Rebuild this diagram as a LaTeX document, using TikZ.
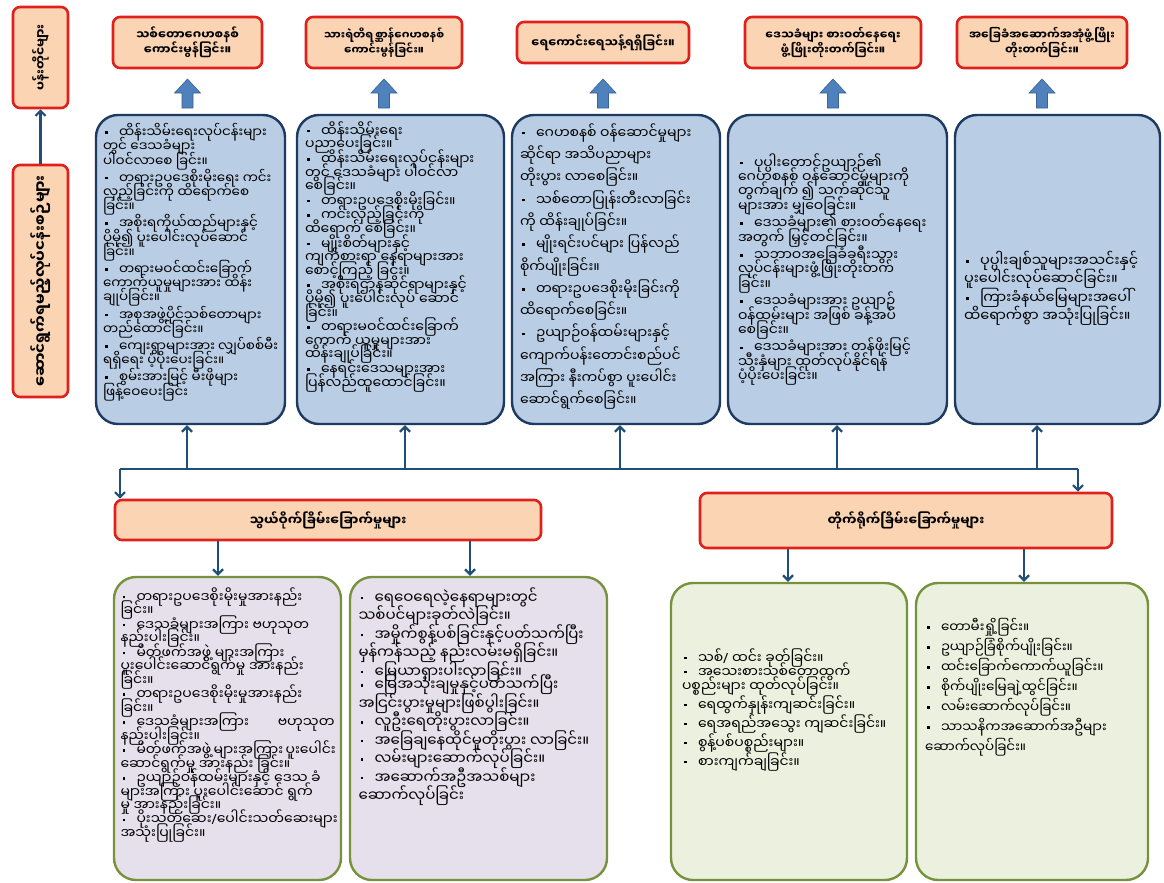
\documentclass[tikz,border=0pt]{standalone}
\usepackage{fontspec}
\newfontfamily\my[Script=Myanmar]{Noto Sans Myanmar UI}
\newfontfamily\lat{Noto Sans}
\usetikzlibrary{calc,arrows.meta}
\definecolor{peach}{HTML}{FBD4B4}
\definecolor{hred}{HTML}{E0201B}
\definecolor{lblue}{HTML}{B9CDE5}
\definecolor{navy}{HTML}{1F3A60}
\definecolor{lav}{HTML}{E5E0EC}
\definecolor{lgreen}{HTML}{EBF1DE}
\definecolor{oliveb}{HTML}{76923C}
\definecolor{darr}{HTML}{1F4E79}
\definecolor{bfill}{HTML}{4F81BD}
\definecolor{bedge}{HTML}{3A6398}
\newlength\bind \setlength\bind{16pt}
\newlength\bgap \setlength\bgap{2pt}
\newcommand\bul{\raisebox{3.8pt}{\rule{2.6pt}{2.6pt}}}
\newcommand\bi{\par\vspace{\bgap}\noindent\hangindent=\bind\hangafter=1\makebox[\bind][l]{\hspace{2pt}\bul}}
\newcommand\bfirst{\par\noindent\hangindent=\bind\hangafter=1\makebox[\bind][l]{\hspace{2pt}\bul}}
\newcommand\slh{{\lat /}}
\newcommand\fs[2]{\fontsize{#1}{#2}\selectfont\lineskiplimit=-100pt\lineskip=0pt\relax\raggedright}
\begin{document}
\lineskiplimit=-100pt
\begin{tikzpicture}[x=1pt,y=-1pt,
 hdr/.style={draw=hred, line width=2.6pt, fill=peach, rounded corners=7pt, align=center, inner sep=2pt, font=\my\bfseries\fontsize{11.5}{15}\selectfont},
 bbox/.style={draw=navy, line width=2.4pt, fill=lblue, rounded corners=22pt, inner sep=0pt, font=\my},
 gbox/.style={draw=oliveb, line width=2.4pt, rounded corners=22pt, inner sep=0pt, font=\my},
 arr/.style={draw=darr, line width=2.2pt, -{Straight Barb[length=5pt,width=10pt]}},
 ln/.style={draw=darr, line width=2.2pt},
 barrow/.style={fill=bfill, draw=bedge, line width=0.6pt}]
\useasboundingbox (0,0) rectangle (1164,883);
\fill[white] (0,0) rectangle (1164,883);

% left column
\node[hdr, rotate=90, minimum width=101, minimum height=55, font=\my\bfseries\fontsize{12.5}{15}\selectfont] (l1) at (40.5,57.5) {ပန်းတိုင်များ};
\node[hdr, rotate=90, minimum width=232, minimum height=55, font=\my\bfseries\fontsize{15}{18}\selectfont] (l2) at (40.5,281) {ဆောင်ရွက်ရမည့်လုပ်ငန်းစဉ်များ};
\draw[arr] (l2.east) -- (l1.west);

% top headers
\node[hdr, minimum width=149, minimum height=51, font=\my\bfseries\fontsize{12}{15}\selectfont] (h1) at (187.5,42.5) {သစ်တောဂေဟစနစ်\\ကောင်းမွန်ခြင်း။};
\node[hdr, minimum width=156, minimum height=51, font=\my\bfseries\fontsize{11}{15}\selectfont] (h2) at (384,42.5) {သားရဲတိရစ္ဆာန်ဂေဟစနစ်\\ကောင်းမွန်ခြင်း။};
\node[hdr, minimum width=172, minimum height=41, font=\my\bfseries\fontsize{12}{15}\selectfont] (h3) at (603,42.5) {ရေကောင်းရေသန့်ရရှိခြင်း။};
\node[hdr, minimum width=176, minimum height=51] (h4) at (833,42.5) {ဒေသခံများ စားဝတ်နေရေး\\ဖွံ့ဖြိုးတိုးတက်ခြင်း။};
\node[hdr, minimum width=170, minimum height=51] (h5) at (1042,42.5) {အခြေခံအဆောက်အအုံဖွံ့ဖြိုး\\တိုးတက်ခြင်း။};

% block arrows
\foreach \i in {1,...,5}{
 \coordinate (ba\i) at (h\i.south |- 0,79);
 \fill[barrow] (ba\i) -- ++(13,14) -- ++(-7.5,0) -- ++(0,15) -- ++(-11,0) -- ++(0,-15) -- ++(-7.5,0) -- cycle;
}

% top boxes
\node[bbox, minimum width=189, minimum height=309] (tb1) at (190.5,269.5) {\parbox[c][292pt][t]{175pt}{\fs{13.5}{14.2}\setlength\bgap{3pt}
\bfirst ထိန်းသိမ်းရေးလုပ်ငန်းများ\\တွင် ဒေသခံများ\\ပါဝင်လာစေ ခြင်း။
\bi တရားဥပဒေစိုးမိုးရေး ကင်း\\လှည့်ခြင်းကို ထိရောက်စေ\\ခြင်း။
\bi အစိုးရကိုယ်ထည်များနှင့်\\ပိုမို၍ ပူးပေါင်းလုပ်ဆောင်\\ခြင်း။
\bi တရားမဝင်ထင်းခြောက်\\ကောက်ယူမှုများအား ထိန်း\\ချုပ်ခြင်း။
\bi အစုအဖွဲ့ပိုင်သစ်တောများ\\တည်ထောင်ခြင်း။
\bi ကျေးရွာများအား လျှပ်စစ်မီး\\ရရှိရေး ပံ့ပိုးပေးခြင်း။
\bi စွမ်းအားမြင့် မီးဖိုများ\\ဖြန့်ဝေပေးခြင်း\par}};

\node[bbox, minimum width=207, minimum height=309] (tb2) at (400.5,269.5) {\parbox[c][296pt][t]{191pt}{\fs{14}{13.6}\setlength\bgap{1pt}
\bfirst ထိန်းသိမ်းရေး\\ပညာပေးခြင်း။
\bi ထိန်းသိမ်းရေးလုပ်ငန်းများ\\တွင် ဒေသခံများ ပါဝင်လာ\\စေခြင်း။
\bi တရားဥပဒေစိုးမိုးခြင်း။
\bi ကင်းလှည့်ခြင်းကို\\ထိရောက် စေခြင်း။
\bi မျိုးစိတ်များနှင့်\\ကျက်စားရာ နေရာများအား\\စောင့်ကြည့် ခြင်း။
\bi အစိုးရဌာနဆိုင်ရာများနှင့်\\ပိုမို၍ ပူးပေါင်းလုပ် ဆောင်\\ခြင်း။
\bi တရားမဝင်ထင်းခြောက်\\ကောက် ယူမှုများအား\\ထိန်းချုပ်ခြင်း။
\bi နေရင်းဒေသများအား\\ပြန်လည်ထူထောင်ခြင်း။\par}};

\node[bbox, minimum width=208, minimum height=309] (tb3) at (616,269.5) {\parbox[c][292pt][t]{192pt}{\fs{14}{22.3}\setlength\bgap{0pt}
\bfirst ဂေဟစနစ် ဝန်ဆောင်မှုများ\\ဆိုင်ရာ အသိပညာများ\\တိုးပွား လာစေခြင်း။
\bi သစ်တောပြုန်းတီးလာခြင်း\\ကို ထိန်းချုပ်ခြင်း။
\bi မျိုးရင်းပင်များ ပြန်လည်\\စိုက်ပျိုးခြင်း။
\bi တရားဥပဒေစိုးမိုးခြင်းကို\\ထိရောက်စေခြင်း။
\bi ဥယျာဉ်ဝန်ထမ်းများနှင့်\\ကျောက်ပန်းတောင်းစည်ပင်\\အကြား နီးကပ်စွာ ပူးပေါင်း\\ဆောင်ရွက်စေခြင်း။\par}};

\node[bbox, minimum width=219, minimum height=309] (tb4) at (837.5,269.5) {\parbox[c][290pt][c]{199pt}{\fs{14}{14.4}\setlength\bgap{3pt}
\bfirst ပုပ္ပါးတောင်ဥယျာဉ်၏\\ဂေဟစနစ် ဝန်ဆောင်မှုများကို\\တွက်ချက် ၍ သက်ဆိုင်သူ\\များအား မျှဝေခြင်း။
\bi ဒေသခံများ၏ စားဝတ်နေရေး\\အတွက် မြှင့်တင်ခြင်း။
\bi သဘာဝအခြေခံခရီးသွား\\လုပ်ငန်းများဖွံ့ဖြိုးတိုးတက်\\ခြင်း။
\bi ဒေသခံများအား ဥယျာဉ်\\ဝန်ထမ်းများ အဖြစ် ခန့်အပ်\\စေခြင်း။
\bi ဒေသခံများအား တန်ဖိုးမြင့်\\သီးနှံများ ထုတ်လုပ်နိုင်ရန်\\ပံ့ပိုးပေးခြင်း။\par}};

\node[bbox, minimum width=205, minimum height=309] (tb5) at (1057.5,269.5) {\parbox[c][290pt][c]{187pt}{\fs{14.5}{18.5}\setlength\bgap{0pt}
\vspace*{38pt}
\bfirst ပုပ္ပါးချစ်သူများအသင်းနှင့်\\ပူးပေါင်းလုပ်ဆောင်ခြင်း။
\bi ကြားခံနယ်မြေများအပေါ်\\ထိရောက်စွာ အသုံးပြုခြင်း။\par}};

% junction line
\coordinate (jl) at (120,469);
\coordinate (jr) at (1078,469);
\coordinate (j1) at (187,469);
\coordinate (j2) at (405,469);
\coordinate (j3) at (620,469);
\coordinate (j4) at (837,469);
\coordinate (j5) at (1037,469);
\draw[ln] (jl) -- (jr);
\foreach \i in {1,...,5}{\draw[arr] (j\i) -- (j\i |- tb\i.south);}

% middle headers
\node[hdr, minimum width=426, minimum height=40, font=\my\bfseries\fontsize{13}{15}\selectfont] (m1) at (328,520) {သွယ်ဝိုက်ခြိမ်းခြောက်မှုများ};
\node[hdr, minimum width=412, minimum height=55, font=\my\bfseries\fontsize{13}{15}\selectfont] (m2) at (906,520.5) {တိုက်ရိုက်ခြိမ်းခြောက်မှုများ};
\draw[arr] (jl) -- (jl |- m1.north);
\draw[arr] (jr) -- (jr |- m2.north);

% bottom boxes
\node[gbox, fill=lav, minimum width=227, minimum height=303] (b1) at (227.5,728.5) {\parbox[c][282pt][t]{214pt}{\fs{14}{13.7}\setlength\bgap{0.5pt}
\bfirst တရားဥပဒေစိုးမိုးမှုအားနည်း\\ခြင်း။
\bi ဒေသခံများအကြား ဗဟုသုတ\\နည်းပါးခြင်း။
\bi မိတ်ဖက်အဖွဲ့ များအကြား\\ပူးပေါင်းဆောင်ရွက်မှု အားနည်း\\ခြင်း။
\bi တရားဥပဒေစိုးမိုးမှုအားနည်း\\ခြင်း။
\bi ဒေသခံများအကြား\hfill ဗဟုသုတ\hspace*{6pt}\\နည်းပါးခြင်း။
\bi မိတ်ဖက်အဖွဲ့~များအကြား~ပူးပေါင်း\\ဆောင်ရွက်မှု အားနည်း ခြင်း။
\bi ဥယျာဉ်ဝန်ထမ်းများနှင့်~ဒေသ~ခံ\\များအကြား ပူးပေါင်းဆောင် ရွက်\\မှု အားနည်းခြင်း။
\bi ပိုးသတ်ဆေး\slh ပေါင်းသတ်ဆေးများ\\အသုံးပြုခြင်း။\par}};

\node[gbox, fill=lav, minimum width=257, minimum height=303] (b2) at (478.5,728.5) {\parbox[c][282pt][t]{240pt}{\fs{15}{18.5}\setlength\bgap{0pt}
\bfirst ရေဝေရေလဲ့နေရာများတွင်\\သစ်ပင်များခုတ်လဲခြင်း။
\bi အမှိုက်စွန့်ပစ်ခြင်းနှင့်ပတ်သက်ပြီး\\မှန်ကန်သည့် နည်းလမ်းမရှိခြင်း။
\bi မြေယာရှားပါးလာခြင်း။
{\setlength\bgap{-5pt}\bi မြေအသုံးချမှုနှင့်ပတ်သက်ပြီး\\အငြင်းပွားမှုများဖြစ်ပွါးခြင်း။}
\bi လူဦးရေတိုးပွားလာခြင်း။
\bi အခြေချနေထိုင်မှုတိုးပွား လာခြင်း။
\bi လမ်းများဆောက်လုပ်ခြင်း။
\bi အဆောက်အဦအသစ်များ\\ဆောက်လုပ်ခြင်း\par}};

\node[gbox, fill=lgreen, minimum width=236, minimum height=297] (b3) at (789,731.5) {\parbox[c][270pt][t]{214pt}{\fs{14}{14}\setlength\bgap{5pt}
\vspace*{52pt}
\bfirst သစ်\slh\ ထင်း ခုတ်ခြင်း။
{\setlength\bgap{0pt}\bi အသေးစားသစ်တောထွက်\\ပစ္စည်းများ ထုတ်လုပ်ခြင်း။}
\bi ရေထွက်နှုန်းကျဆင်းခြင်း။
\bi ရေအရည်အသွေး ကျဆင်းခြင်း။
\bi စွန့်ပစ်ပစ္စည်းများ။
\bi စားကျက်ချခြင်း။\par}};

\node[gbox, fill=lgreen, minimum width=232, minimum height=297] (b4) at (1032,731.5) {\parbox[c][270pt][t]{214pt}{\fs{13.5}{20}\setlength\bgap{0pt}
\vspace*{22pt}
\bfirst တောမီးရှို့ခြင်း။
\bi ဥယျာဉ်ခြံစိုက်ပျိုးခြင်း။
\bi ထင်းခြောက်ကောက်ယူခြင်း။
\bi စိုက်ပျိုးမြေချဲ့ထွင်ခြင်း။
\bi လမ်းဆောက်လုပ်ခြင်း။
\bi သာသနိကအဆောက်အဦများ\\ဆောက်လုပ်ခြင်း။\par}};

\draw[arr] (m1.south -| 218,0) -- (b1.north -| 218,0);
\draw[arr] (m1.south -| 470,0) -- (b2.north -| 470,0);
\draw[arr] (m2.south -| 788,0) -- (b3.north -| 788,0);
\draw[arr] (m2.south -| 1024,0) -- (b4.north -| 1024,0);
\end{tikzpicture}
\end{document}
